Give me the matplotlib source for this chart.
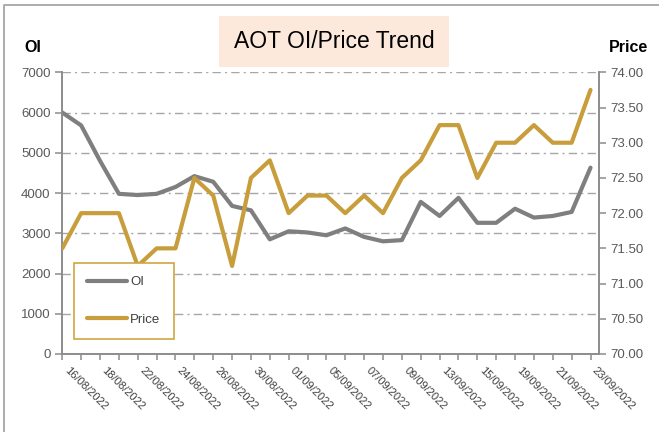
import matplotlib.pyplot as plt
from matplotlib.patches import Rectangle
from matplotlib.lines import Line2D

plt.rcParams["font.family"] = ["Liberation Sans", "DejaVu Sans"]

dates = ["16/08/2022", "17/08/2022", "18/08/2022", "19/08/2022", "22/08/2022",
         "23/08/2022", "24/08/2022", "25/08/2022", "26/08/2022", "29/08/2022",
         "30/08/2022", "31/08/2022", "01/09/2022", "02/09/2022", "05/09/2022",
         "06/09/2022", "07/09/2022", "08/09/2022", "09/09/2022", "12/09/2022",
         "13/09/2022", "14/09/2022", "15/09/2022", "16/09/2022", "19/09/2022",
         "20/09/2022", "21/09/2022", "22/09/2022", "23/09/2022"]
oi = [6000, 5680, 4800, 3980, 3950, 3980, 4150, 4420, 4280, 3680,
      3570, 2850, 3050, 3020, 2950, 3120, 2910, 2800, 2830, 3780,
      3430, 3880, 3260, 3260, 3610, 3390, 3430, 3530, 4630]
price = [71.50, 72.00, 72.00, 72.00, 71.25, 71.50, 71.50, 72.50, 72.25, 71.25,
         72.50, 72.75, 72.00, 72.25, 72.25, 72.00, 72.25, 72.00, 72.50, 72.75,
         73.25, 73.25, 72.50, 73.00, 73.00, 73.25, 73.00, 73.00, 73.75]
oi_ticks = [0, 1000, 2000, 3000, 4000, 5000, 6000, 7000]
price_ticks = [70.0, 70.5, 71.0, 71.5, 72.0, 72.5, 73.0, 73.5, 74.0]

GREY = "#7f7f7f"
GOLD = "#c89d3c"
AXIS = "#8c8c8c"
TXT = "#595959"

fig = plt.figure(figsize=(6.59, 4.32), dpi=100)
W, H = 659, 432
ax = fig.add_axes([62.3 / W, 1 - 354 / H, (599 - 62.3) / W, (354 - 72.3) / H])
ax2 = ax.twinx()

x = list(range(len(dates)))
l1, = ax.plot(x, oi, color=GREY, lw=3, solid_capstyle="round", solid_joinstyle="round", zorder=3)
l2, = ax2.plot(x, price, color=GOLD, lw=3, solid_capstyle="round", solid_joinstyle="round", zorder=3)

ax.set_xlim(0, 28.45)
ax.set_ylim(0, 7000)
ax2.set_ylim(70, 74)
ax.set_yticks(oi_ticks)
ax2.set_yticks(price_ticks)
ax2.set_yticklabels([f"{v:.2f}" for v in price_ticks])
ax.set_xticks(x)
ax.set_xticklabels([d if i % 2 == 0 else "" for i, d in enumerate(dates)],
                   rotation=-45, ha="left", fontsize=8, color="#404040")

for a in (ax, ax2):
    for s in a.spines.values():
        s.set_color(AXIS)
        s.set_linewidth(1.2)
    a.spines["top"].set_visible(False)
    a.tick_params(colors=AXIS, labelcolor=TXT, length=5, width=1.1, labelsize=9.5)
ax.tick_params(axis="x", length=4, pad=4, labelsize=8, labelcolor="#404040")

for v in oi_ticks[1:]:
    ax.axhline(v, color="#a6a6a6", lw=1, linestyle=(0, (6, 3, 1.5, 3)), zorder=1)

fig.text(33 / W, 1 - 47 / H, "OI", fontsize=11.5, fontweight="bold", ha="center", va="center")
fig.text(629 / W, 1 - 47 / H, "Price", fontsize=11.5, fontweight="bold", ha="center", va="center")

fig.patches.append(Rectangle((219 / W, 1 - 67 / H), 230 / W, 51 / H,
                             transform=fig.transFigure, facecolor="#fce9dc",
                             edgecolor="none", zorder=0))
fig.text(334 / W, 1 - 42 / H, "AOT OI/Price Trend", fontsize=16.5, ha="center", va="center")

fig.add_artist(Line2D([4 / W, 4 / W, 1], [0, 1 - 5 / H, 1 - 5 / H],
                      transform=fig.transFigure, color="#a6a6a6", lw=1.3))

leg = ax.legend([l1, l2], ["OI", "Price"], loc="upper left",
                bbox_to_anchor=(74 / W, 1 - 263 / H), bbox_transform=fig.transFigure,
                frameon=True, fancybox=False, framealpha=1, borderpad=1.0, handlelength=3.0,
                handletextpad=0.25, labelspacing=1.9, fontsize=9.5, borderaxespad=0)
leg.get_frame().set_edgecolor("#d0a640")
leg.get_frame().set_linewidth(1.2)
for t in leg.get_texts():
    t.set_color("#404040")
leg.remove()
ax2.add_artist(leg)

fig.savefig("out.png", dpi=100)
